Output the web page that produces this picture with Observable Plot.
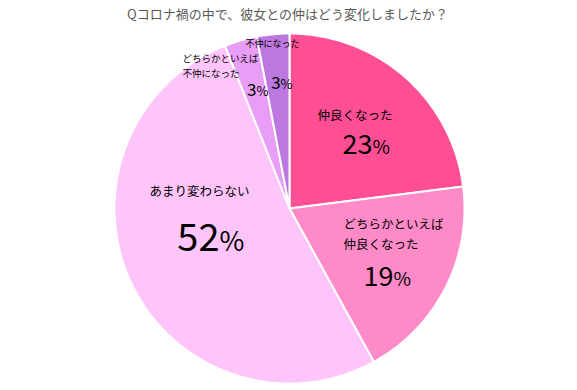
<!DOCTYPE html>
<html><head><meta charset="utf-8">
<script src="https://cdn.jsdelivr.net/npm/d3@7"></script>
<script src="https://cdn.jsdelivr.net/npm/@observablehq/plot@0.6"></script>
<style>body{margin:0;background:#fff}</style>
</head><body><div id="chart"></div>
<script>
const title = "Qコロナ禍の中で、彼女との仲はどう変化しましたか？";
const categories = ["仲良くなった", "どちらかといえば\n仲良くなった", "あまり変わらない", "どちらかといえば\n不仲になった", "不仲になった"];
const values = [23, 19, 52, 3, 3];
const colors = ["#FF4F94", "#FF8AC8", "#FFC5FA", "#E89DF6", "#BC78DF"];

// label layout tweaks (offsets from slice mid-angle anchor)
const nameLayout = [
  {dx: -4, dy: -16, anchor: "middle", size: 12.5},
  {dx: -39.6, dy: -23.7, anchor: "start", size: 12.5},
  {dx: 5, dy: -63.7, anchor: "middle", size: 12.5},
  {dx: -77.7, dy: -42.7, anchor: "start", size: 9.5},
  {dx: -7, dy: -61.5, anchor: "middle", size: 9}
];
const pctLayout = [
  {dx: 13.6, dy: 23.8, num: 27, pct: 19},
  {dx: 10.4, dy: 30.3, num: 27, pct: 19},
  {dx: 25, dy: -2.7, num: 38, pct: 27},
  {dx: -3.7, dy: -11.2, num: 17, pct: 13},
  {dx: 1, dy: -14.5, num: 17, pct: 13}
];

const total = d3.sum(values);
const slices = [];
let acc = 0;
values.forEach((v, i) => {
  const a0 = acc / total * 2 * Math.PI; acc += v;
  const a1 = acc / total * 2 * Math.PI;
  slices.push({i, cat: categories[i], value: v, a0, a1, mid: (a0 + a1) / 2});
});
const arcPts = slices.map(s => {
  const n = Math.max(2, Math.ceil((s.a1 - s.a0) / (Math.PI / 180)));
  const pts = [{x: 0, y: 0}];
  for (let k = 0; k <= n; k++) {
    const a = s.a0 + (s.a1 - s.a0) * k / n;
    pts.push({x: Math.sin(a), y: Math.cos(a)});
  }
  pts.push({x: 0, y: 0});
  return pts;
});

const R = 0.6;
const marks = [];
slices.forEach(s => {
  marks.push(Plot.line(arcPts[s.i], {x: "x", y: "y", fill: colors[s.i], stroke: "white", strokeWidth: 2, strokeLinejoin: "miter"}));
});
slices.forEach(s => {
  const nl = nameLayout[s.i], pl = pctLayout[s.i];
  marks.push(Plot.text([s], {x: d => Math.sin(d.mid) * R, y: d => Math.cos(d.mid) * R, text: d => d.cat,
    dx: nl.dx, dy: nl.dy, textAnchor: nl.anchor, fontSize: nl.size, lineHeight: 1.6, lineAnchor: "middle", fill: "#000"}));
  marks.push(Plot.text([s], {x: d => Math.sin(d.mid) * R, y: d => Math.cos(d.mid) * R, text: d => String(d.value),
    dx: pl.dx, dy: pl.dy, textAnchor: "end", fontSize: pl.num, lineAnchor: "bottom", fill: "#000"}));
  marks.push(Plot.text([s], {x: d => Math.sin(d.mid) * R, y: d => Math.cos(d.mid) * R, text: () => "%",
    dx: pl.dx, dy: pl.dy, textAnchor: "start", fontSize: pl.pct, lineAnchor: "bottom", fill: "#000"}));
});
marks.push(Plot.text([title], {frameAnchor: "top", dx: -2, dy: -19, lineAnchor: "middle", fontSize: 13, fill: "#595959"}));

const chart = Plot.plot({
  width: 577, height: 390,
  marginTop: 33, marginBottom: 7, marginLeft: 114, marginRight: 113,
  x: {domain: [-1, 1], axis: null},
  y: {domain: [-1, 1], axis: null},
  style: {fontFamily: "'Noto Sans CJK JP', 'Noto Sans', sans-serif", background: "#fff", overflow: "visible"},
  marks
});
document.getElementById("chart").appendChild(chart);
</script>
</body></html>
